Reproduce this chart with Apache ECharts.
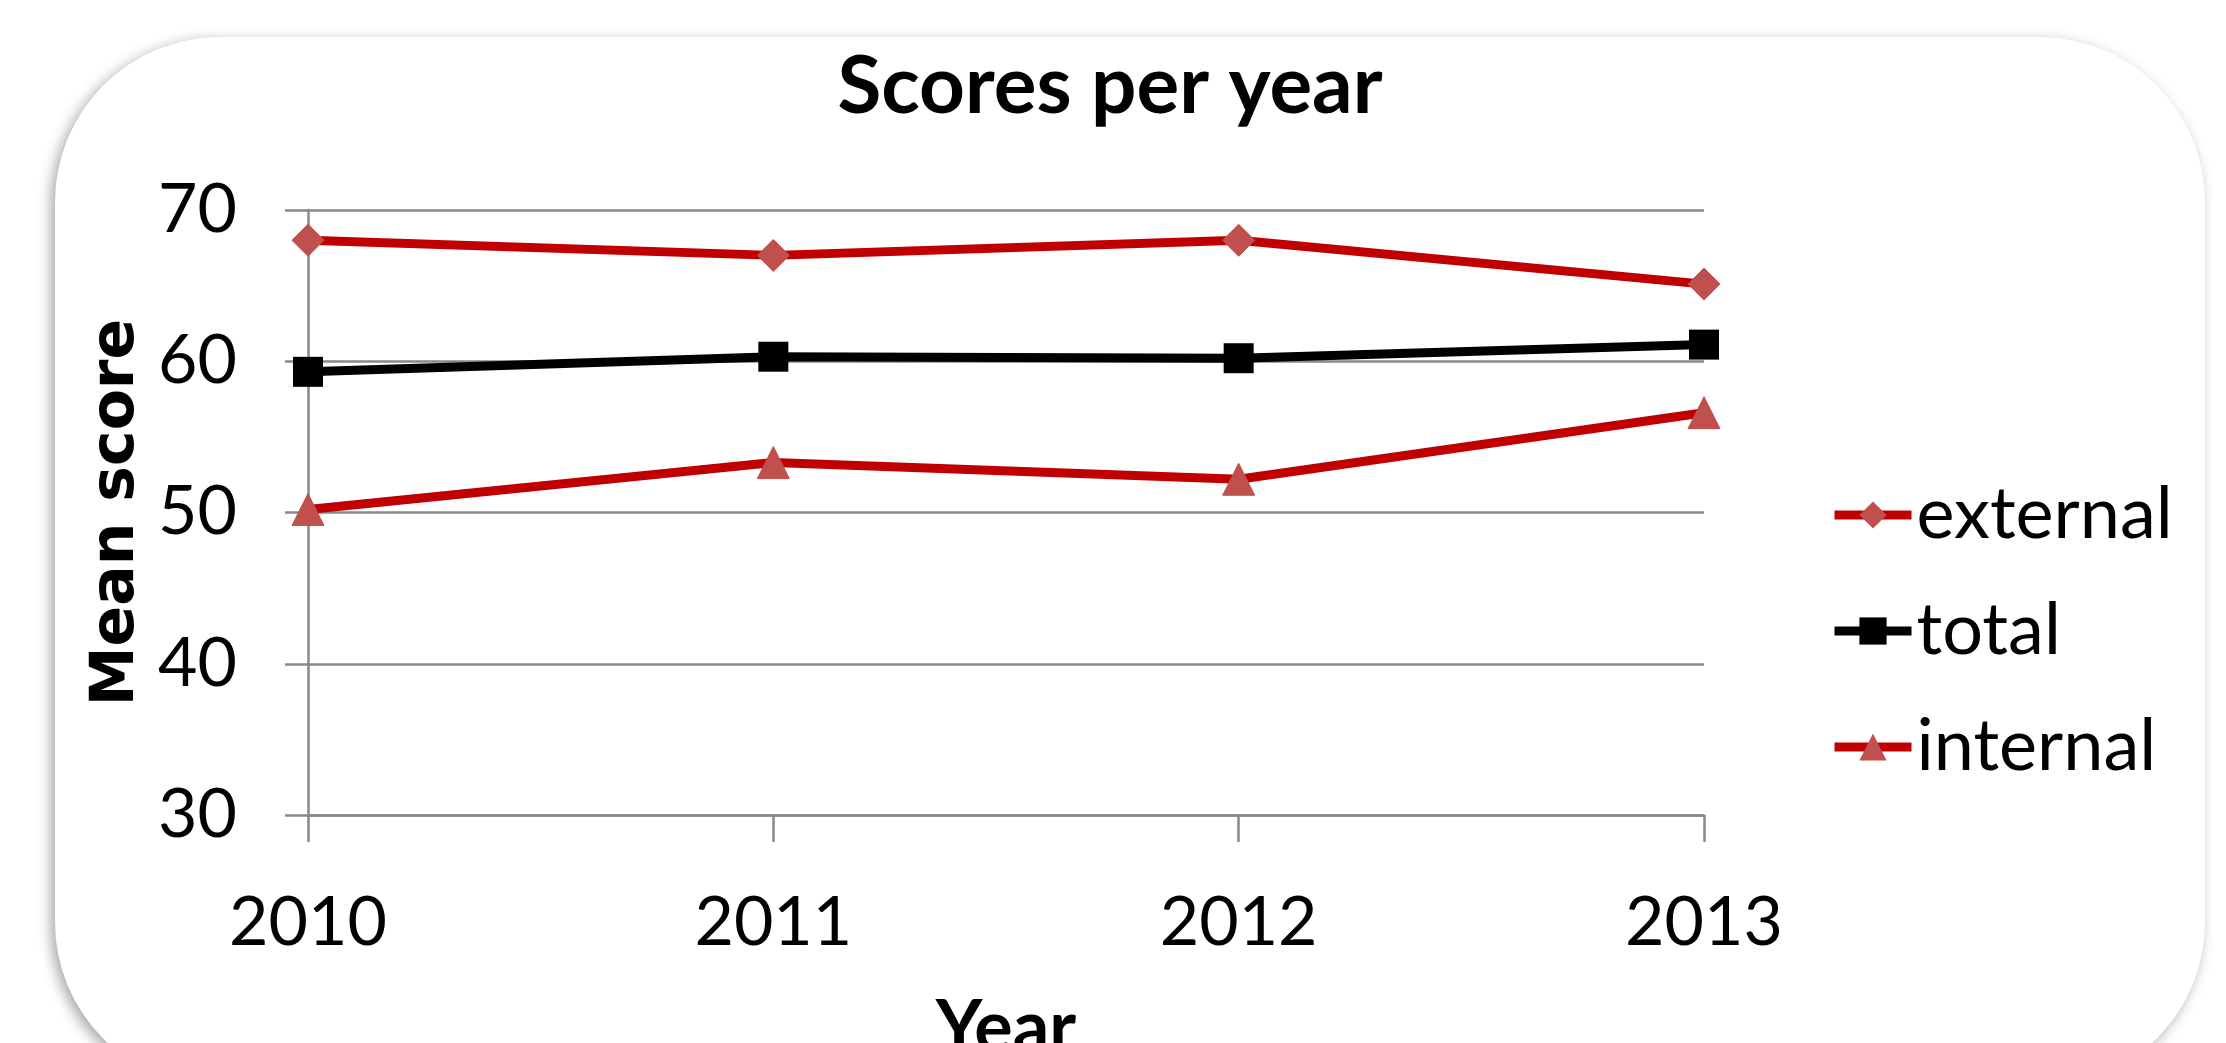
<!DOCTYPE html>
<html>
<head>
<meta charset="utf-8">
<script src="https://cdn.jsdelivr.net/npm/echarts@6/dist/echarts.min.js"></script>
<style>
html,body{margin:0;padding:0;background:#fff;}
#chart{width:2226px;height:1043px;}
</style>
</head>
<body>
<div id="chart"></div>
<script>
var years = ['2010', '2011', '2012', '2013'];
var external = [68.0, 67.0, 68.0, 65.1];
var total = [59.3, 60.3, 60.2, 61.1];
var internal = [50.2, 53.3, 52.2, 56.6];
var yTicks = [30, 40, 50, 60, 70];

var FONT = "Lato, 'Liberation Sans', sans-serif";
var chart = echarts.init(document.getElementById('chart'));
chart.setOption({
  backgroundColor: '#ffffff',
  animation: false,
  graphic: {
    elements: [{
      type: 'rect',
      z: -100,
      silent: true,
      shape: {x: 55, y: 37, width: 2150, height: 1050, r: 165},
      style: {fill: '#ffffff', shadowBlur: 14, shadowColor: 'rgba(0,0,0,0.35)', shadowOffsetX: -4, shadowOffsetY: 4}
    }]
  },
  title: {
    text: 'Scores per year',
    left: 1105,
    textAlign: 'center',
    top: 42,
    textStyle: {fontFamily: FONT, fontWeight: 'bold', fontSize: 80, color: '#000'}
  },
  legend: {
    orient: 'vertical',
    left: 1825,
    top: 474,
    itemWidth: 77,
    itemHeight: 34,
    itemGap: 44,
    lineStyle: {width: 9},
    textStyle: {fontFamily: FONT, fontSize: 72, color: '#000'},
    data: ['external', 'total', 'internal']
  },
  grid: {left: 308, right: 522, top: 210, bottom: 228, containLabel: false, outerBoundsMode: 'none'},
  xAxis: {
    type: 'category',
    data: years,
    boundaryGap: false,
    name: 'Year',
    nameLocation: 'middle',
    nameGap: 178,
    nameTextStyle: {fontFamily: FONT, fontWeight: 'bold', fontSize: 72, color: '#000'},
    axisLine: {show: true, lineStyle: {color: '#898989', width: 2.5}},
    axisTick: {show: true, length: 27, lineStyle: {color: '#898989', width: 2.5}},
    axisLabel: {margin: 74, fontFamily: FONT, fontSize: 68, color: '#000'},
    splitLine: {show: false}
  },
  yAxis: {
    type: 'value',
    min: yTicks[0],
    max: yTicks[yTicks.length - 1],
    interval: 10,
    name: 'Mean score',
    nameLocation: 'middle',
    nameGap: 141,
    nameRotate: 90,
    nameTextStyle: {fontFamily: "'DejaVu Sans', sans-serif", fontWeight: 'bold', fontSize: 60, color: '#000'},
    axisLine: {show: true, lineStyle: {color: '#898989', width: 2.5}},
    axisTick: {show: true, length: 23, lineStyle: {color: '#898989', width: 2.5}},
    axisLabel: {margin: 71, fontFamily: FONT, fontSize: 68, color: '#000'},
    splitLine: {show: true, lineStyle: {color: '#898989', width: 2.5}}
  },
  series: [
    {
      name: 'external', type: 'line', data: external,
      symbol: 'diamond', symbolSize: 32,
      lineStyle: {color: '#C00000', width: 9},
      itemStyle: {color: '#C0504D', borderColor: '#C0504D'},
      color: '#C00000', z: 3
    },
    {
      name: 'total', type: 'line', data: total,
      symbol: 'rect', symbolSize: 30,
      lineStyle: {color: '#000000', width: 9},
      itemStyle: {color: '#000000'},
      color: '#000000', z: 3
    },
    {
      name: 'internal', type: 'line', data: internal,
      symbol: 'triangle', symbolSize: 32,
      lineStyle: {color: '#C00000', width: 9},
      itemStyle: {color: '#C0504D', borderColor: '#C0504D'},
      color: '#C00000', z: 3
    }
  ]
});
</script>
</body>
</html>
